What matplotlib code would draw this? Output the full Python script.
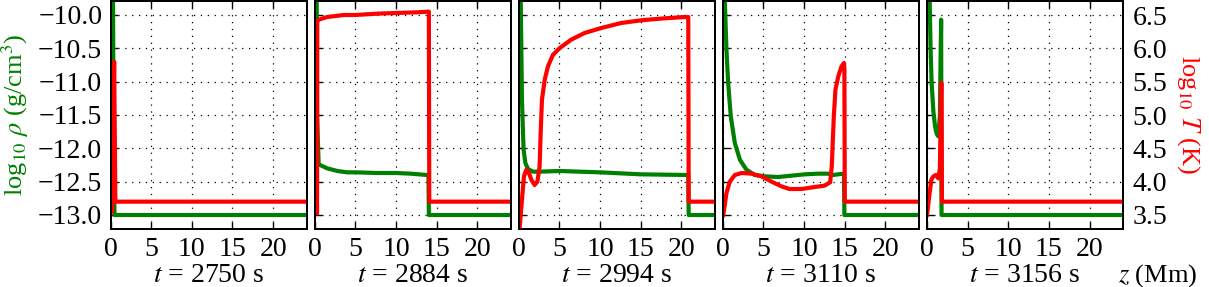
import matplotlib
matplotlib.use("Agg")
import matplotlib.pyplot as plt

plt.rcParams['font.family'] = 'serif'
plt.rcParams['font.serif'] = ['Liberation Serif', 'DejaVu Serif']
plt.rcParams['mathtext.fontset'] = 'stix'

times = ["2750", "2884", "2994", "3110", "3156"]

# panel 1 (t = 2750 s)
z_rho1 = [0.3, 0.4, 0.5, 24.5]
rho1 = [-9.5, -12.5, -13.0, -13.0]
z_T1 = [0.2, 0.45, 0.6, 24.5]
T1 = [3.55, 5.8, 3.7, 3.7]

# panel 2 (t = 2884 s)
z_rho2 = [0.25, 0.3, 0.5, 1.55, 2.8, 4.0, 5.0, 7.7, 10.0, 11.8, 13.8, 14.0, 14.05, 24.5]
rho2 = [-9.5, -11.5, -12.24, -12.30, -12.34, -12.36, -12.36, -12.37, -12.37, -12.38, -12.40,
        -12.40, -13.0, -13.0]
z_T2 = [0.3, 0.33, 0.5, 1.55, 3.6, 5.0, 7.7, 10.0, 12.6, 14.0, 14.05, 14.1, 24.5]
T2 = [3.53, 6.40, 6.43, 6.47, 6.50, 6.50, 6.52, 6.53, 6.54, 6.55, 6.55, 3.7, 3.7]

# panel 3 (t = 2994 s)
z_rho3 = [0.2, 0.25, 0.4, 0.6, 0.82, 1.14, 1.75, 2.57, 5.0, 10.0, 15.0, 20.7, 20.85, 20.9, 24.5]
rho3 = [-9.5, -9.8, -11.27, -12.02, -12.22, -12.31, -12.35, -12.35, -12.34, -12.36, -12.39,
        -12.40, -12.40, -13.0, -13.0]
z_T3 = [0.1, 0.4, 0.65, 0.94, 1.2, 1.55, 1.96, 2.3, 2.57, 2.7, 2.86, 3.2, 3.6, 4.2, 5.0, 6.45,
        8.1, 10.0, 12.6, 15.0, 17.9, 20.5, 20.85, 20.9, 24.5]
T3 = [3.28, 3.73, 4.08, 4.18, 4.15, 4.03, 3.95, 4.00, 4.23, 4.73, 5.23, 5.53, 5.73, 5.90, 6.00,
      6.13, 6.23, 6.30, 6.38, 6.42, 6.45, 6.47, 6.47, 3.7, 3.7]

# panel 4 (t = 3110 s)
z_rho4 = [0.2, 0.25, 0.45, 0.66, 0.98, 1.48, 2.1, 2.9, 3.93, 5.16, 6.8, 8.44, 10.1, 11.7, 12.95,
          13.57, 14.8, 14.9, 14.95, 24.5]
rho4 = [-9.5, -9.8, -10.52, -11.02, -11.52, -11.92, -12.17, -12.32, -12.40, -12.42, -12.43,
        -12.41, -12.39, -12.38, -12.38, -12.40, -12.38, -12.38, -13.0, -13.0]
z_T4 = [0.05, 0.16, 0.45, 0.86, 1.48, 2.3, 3.52, 4.75, 6.0, 7.2, 8.2, 9.7, 11.3, 12.5, 13.2,
        13.4, 13.65, 13.85, 14.2, 14.6, 14.9, 14.95, 15.0, 24.5]
T4 = [3.5, 3.58, 3.83, 4.00, 4.10, 4.13, 4.12, 4.08, 4.00, 3.93, 3.89, 3.89, 3.92, 3.94, 3.99,
      4.23, 4.98, 5.38, 5.58, 5.73, 5.78, 5.70, 3.7, 3.7]

# panel 5 (t = 3156 s)
z_rho5 = [0.3, 0.45, 0.58, 0.8, 1.0, 1.2, 1.4, 1.6, 1.7, 1.75, 1.8, 24.5]
rho5 = [-9.5, -10.5, -11.02, -11.45, -11.67, -11.78, -11.82, -11.5, -10.5, -10.07, -13.0, -13.0]
z_T5 = [0.0, 0.1, 0.3, 0.55, 0.8, 1.1, 1.4, 1.6, 1.75, 1.8, 1.85, 24.5]
T5 = [3.5, 3.58, 3.8, 4.03, 4.08, 4.1, 4.05, 4.2, 5.48, 5.48, 3.7, 3.7]

z_rho = [z_rho1, z_rho2, z_rho3, z_rho4, z_rho5]
rho = [rho1, rho2, rho3, rho4, rho5]
z_T = [z_T1, z_T2, z_T3, z_T4, z_T5]
T = [T1, T2, T3, T4, T5]

xticks = [0, 5, 10, 15, 20]
rho_ticks = [-13.0, -12.5, -12.0, -11.5, -11.0, -10.5, -10.0]
T_ticks = [3.5, 4.0, 4.5, 5.0, 5.5, 6.0, 6.5]

W, H = 1209, 287
fig = plt.figure(figsize=(W / 100, H / 100), dpi=100)

FS = 20
LW = 3.0
green = '#008000'
red = '#ff0000'
left0, step, pw = 110.5, 204.1, 196.0
ybot, ytop = 229.0, 1.0

for i in range(5):
    ax = fig.add_axes([(left0 + i * step) / W, 1 - ybot / H, pw / W, (ybot - ytop) / H])
    ax.plot(z_rho[i], rho[i], color=green, lw=LW, solid_joinstyle='round')
    ax.set_xlim(0, 24.1)
    ax.set_ylim(-13.21, -9.79)
    ax.set_xticks(xticks)
    ax.set_yticks(rho_ticks)
    ax.set_xticklabels([str(v) for v in xticks])
    ax.set_yticklabels(['\u2212%.1f' % abs(v) for v in rho_ticks])
    ax.tick_params(direction='in', top=True, right=True, length=5, width=1.0,
                   labelsize=FS, pad=6, labelleft=(i == 0))
    ax.grid(True, color='k', linestyle=(0, (1, 4.5)), lw=0.9)
    for s in ax.spines.values():
        s.set_linewidth(1.4)
    fig.text((left0 + i * step + pw / 2) / W, 1 - 282 / H, '$t$ = %s s' % times[i],
             ha='center', va='baseline', fontsize=FS)

    tx = ax.twinx()
    tx.plot(z_T[i], T[i], color=red, lw=LW, solid_joinstyle='round')
    tx.set_ylim(3.29, 6.71)
    tx.set_xlim(0, 24.1)
    tx.set_yticks(T_ticks)
    tx.set_yticklabels(['%.1f' % v for v in T_ticks])
    tx.tick_params(direction='in', length=0, labelsize=FS, pad=7, labelright=(i == 4))
    for s in tx.spines.values():
        s.set_linewidth(1.4)
    if i == 0:
        fig.text(15 / W, 1 - 115 / H, 'log$_{10}$ $\\rho$ (g/cm$^3$)', color=green,
                 rotation=90, ha='center', va='center', fontsize=19)
    if i == 4:
        fig.text(1188 / W, 1 - 115 / H, 'log$_{10}$ $T$ (K)', color=red,
                 rotation=270, ha='center', va='center', fontsize=19)

fig.text(1158 / W, 1 - 282 / H, '$z$ (Mm)', ha='center', va='baseline', fontsize=19)

fig.savefig('out.png', dpi=100)
